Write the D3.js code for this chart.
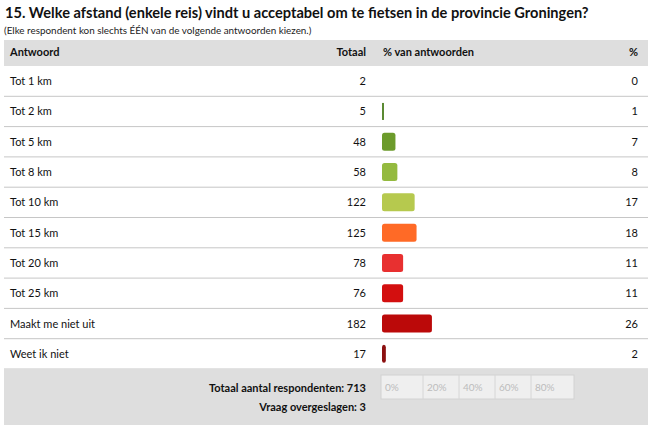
<!DOCTYPE html>
<html><head><meta charset="utf-8">
<script src="https://cdn.jsdelivr.net/npm/d3@7"></script>
<style>
body{margin:0;background:#fff;}
svg{display:block;font-family:Lato,"Open Sans",sans-serif;}
</style></head><body>
<svg id="c" width="656" height="433"></svg>
<script>
const title = "15. Welke afstand (enkele reis) vindt u acceptabel om te fietsen in de provincie Groningen?";
const subtitle = "(Elke respondent kon slechts ÉÉN van de volgende antwoorden kiezen.)";
const categories = ["Tot 1 km","Tot 2 km","Tot 5 km","Tot 8 km","Tot 10 km","Tot 15 km","Tot 20 km","Tot 25 km","Maakt me niet uit","Weet ik niet"];
const totals = [2,5,48,58,122,125,78,76,182,17];
const percents = [0,1,7,8,17,18,11,11,26,2];
const barColors = ["#5b8a33","#5b8a33","#6c9b2b","#94ba3f","#b6c94e","#ff6a26","#e83030","#d30f0f","#bb0909","#8c1010"];
const scaleTicks = [0,20,40,60,80];
const totalRespondents = 713;
const skipped = 3;

const svg = d3.select("#c");
const L = 4, R = 648;

svg.append("text").attr("x",5).attr("y",18).attr("font-size",14.6).attr("font-weight","bold").attr("fill","#111").text(title);
svg.append("text").attr("x",4).attr("y",34).attr("font-size",9.9).attr("fill","#222").text(subtitle);

// header
svg.append("rect").attr("x",L).attr("y",40).attr("width",R-L).attr("height",26).attr("fill","#dedede");
const hy = 56;
svg.append("text").attr("x",10).attr("y",hy).attr("font-size",11).attr("font-weight","bold").attr("fill","#111").text("Antwoord");
svg.append("text").attr("x",366).attr("y",hy).attr("font-size",11).attr("font-weight","bold").attr("text-anchor","end").attr("fill","#111").text("Totaal");
svg.append("text").attr("x",383).attr("y",hy).attr("font-size",11).attr("font-weight","bold").attr("fill","#111").text("% van antwoorden");
svg.append("text").attr("x",638).attr("y",hy).attr("font-size",11).attr("font-weight","bold").attr("text-anchor","end").attr("fill","#111").text("%");

const y = d3.scaleBand().domain(categories).range([66,369]).padding(0);
const x = d3.scaleLinear().domain([0,100]).range([382,574]);
const data = categories.map((c,i)=>({c,t:totals[i],p:percents[i],col:barColors[i]}));

const rows = svg.append("g").selectAll("g").data(data).join("g").attr("transform",d=>`translate(0,${y(d.c)})`);
const bh = y.bandwidth();
rows.append("line").attr("x1",L).attr("x2",R).attr("y1",bh).attr("y2",bh).attr("stroke","#c6c6c6").attr("stroke-width",1);
rows.append("text").attr("x",10).attr("y",bh/2+4).attr("font-size",11).attr("fill","#111").text(d=>d.c);
rows.append("text").attr("x",366).attr("y",bh/2+4).attr("font-size",11).attr("text-anchor","end").attr("fill","#111").text(d=>d.t);
rows.append("text").attr("x",638).attr("y",bh/2+4).attr("font-size",11).attr("text-anchor","end").attr("fill","#111").text(d=>d.p);
rows.filter(d=>d.p>0).append("rect")
  .attr("x",x(0)).attr("y",d=>d.p<=1? bh/2-8.5 : bh/2-9)
  .attr("width",d=>Math.max(2,x(d.p)-x(0))).attr("height",d=>d.p<=1?17:18)
  .attr("rx",d=>d.p<=1?0:2.5).attr("fill",d=>d.col);

// footer
svg.append("rect").attr("x",L).attr("y",369).attr("width",R-L).attr("height",56).attr("fill","#dedede");
svg.append("text").attr("x",366).attr("y",392).attr("font-size",11).attr("font-weight","bold").attr("text-anchor","end").attr("fill","#111").text("Totaal aantal respondenten:  " + totalRespondents);
svg.append("text").attr("x",366).attr("y",411).attr("font-size",11).attr("font-weight","bold").attr("text-anchor","end").attr("fill","#111").text("Vraag overgeslagen: " + skipped);

const lx = d3.scaleLinear().domain([0,100]).range([387,567]);
const box = svg.append("g");
box.append("rect").attr("x",381).attr("y",375).attr("width",193).attr("height",24).attr("fill","#efefef").attr("stroke","#d2d2d2");
scaleTicks.forEach((t,i)=>{
  const x0 = i===0 ? 381 : lx(t);
  if(i>0) box.append("line").attr("x1",x0).attr("x2",x0).attr("y1",375).attr("y2",399).attr("stroke","#d6d6d6");
  box.append("text").attr("x",x0+4).attr("y",391).attr("font-size",10).attr("fill","#bcbcbc").text(t+"%");
});
</script>
</body></html>
